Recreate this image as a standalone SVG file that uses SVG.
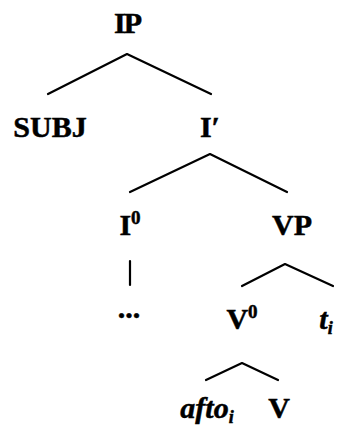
<svg xmlns="http://www.w3.org/2000/svg" width="342" height="426" viewBox="0 0 342 426">
<style>
.t{font-family:"Liberation Serif","Times New Roman",serif;font-weight:bold;font-size:30px;fill:#000;stroke:#000;stroke-width:0.5;text-anchor:middle}
.i{font-style:italic}
.sup{font-size:19px}
.sub{font-size:18px}
.e{fill:none;stroke:#000;stroke-width:2.2;stroke-linecap:round;stroke-linejoin:round}
</style>
<rect width="342" height="426" fill="#fff"/>
<g id="connectors">
<polyline class="e" points="48,94 127,54 211,94"/>
<polyline class="e" points="130,192 210,154 287,192"/>
<line class="e" x1="130" y1="261" x2="130" y2="285"/>
<polyline class="e" points="242,286 285,264 333,286"/>
<polyline class="e" points="206,380 242,363 278,380"/>
</g>
<g id="IP"><text class="t" x="127" y="33" letter-spacing="-2">IP</text></g>
<g id="SUBJ"><text class="t" x="50" y="137">SUBJ</text></g>
<g id="Ibar"><text class="t" x="210" y="137">I′</text></g>
<g id="I0"><text class="t" x="130" y="235">I<tspan class="sup" dy="-11">0</tspan></text></g>
<g id="VP"><text class="t" x="292" y="235">VP</text></g>
<g id="dots"><text class="t" x="129" y="318">...</text></g>
<g id="V0"><text class="t" x="242" y="329">V<tspan class="sup" dy="-11">0</tspan></text></g>
<g id="ti"><text class="t i" x="326" y="329">t<tspan class="sub" dy="5">i</tspan></text></g>
<g id="afto"><text class="t i" x="207" y="418">afto<tspan class="sub" dy="5">i</tspan></text></g>
<g id="V"><text class="t" x="279" y="418">V</text></g>
</svg>
